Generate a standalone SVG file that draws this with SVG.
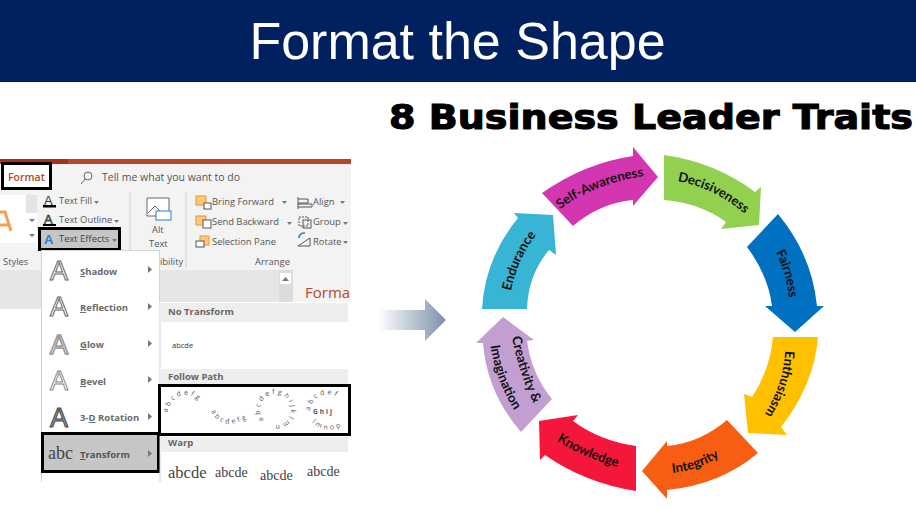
<svg xmlns="http://www.w3.org/2000/svg" xmlns:xlink="http://www.w3.org/1999/xlink" width="916" height="509" viewBox="0 0 916 509">
<style>
.lab{font-family:Lato,"Open Sans",sans-serif;font-weight:700;font-size:13.2px;fill:#111;text-anchor:middle}
.rb{font-family:"Open Sans","Liberation Sans",sans-serif;font-size:9.4px;fill:#555}
.mn{font-family:"Open Sans","Liberation Sans",sans-serif;font-size:9.5px;font-weight:700;fill:#6a6a6a}
.hd{font-family:"Open Sans","Liberation Sans",sans-serif;font-size:9.5px;font-weight:700;fill:#666}
.ic{font-family:"Liberation Sans",sans-serif;font-size:27px;fill:#fff;stroke:#666;stroke-width:1}
.fp{font-family:"Open Sans",sans-serif;font-size:7px;fill:#555;letter-spacing:2.6px}
.wp{font-family:"Liberation Serif",serif;font-size:15px;fill:#444}
.tri{fill:#777}
</style>
<defs>
<linearGradient id="ga" x1="0" x2="1" y1="0" y2="0"><stop offset="0" stop-color="#fff"/><stop offset="1" stop-color="#7c90ad"/></linearGradient>
<path id="p1" d="M559 210Q595 183 645 176"/>
<path id="p2" d="M677 181Q715 188 745 214"/>
<path id="p3" d="M776 253Q786 273 789 297"/>
<path id="p4" d="M785 352Q783 385 765 413"/>
<path id="p5" d="M673 473Q698 470 719 457"/>
<path id="p6" d="M557 441Q585 458 617 467"/>
<path id="p7" d="M511 330Q517 372 537 410"/>
<path id="p8" d="M489 336Q495 385 520 418"/>
<path id="p9" d="M509 300Q517 255 542 228"/>
<path id="f1" d="M167 413Q172 395 186 395Q198 395 206 412"/>
<path id="f2" d="M211 411Q222 433 250 417"/>
<path id="f3" d="M264 420A15.500 15.500 0 1 1 270 424"/>
<path id="f4" d="M310 411A17.500 17.500 0 0 1 344 406"/>
<path id="f5" d="M312 422Q325 435 342 426"/>
<clipPath id="sc"><rect x="160" y="437" width="191" height="44"/></clipPath>
</defs>
<rect width="916" height="509" fill="#fff"/>
<rect width="916" height="82" fill="#002060"/>
<text x="457.500" y="59" text-anchor="middle" font-family="Liberation Sans,sans-serif" font-size="52" fill="#fff">Format the Shape</text>
<text x="389" y="129" textLength="524" lengthAdjust="spacingAndGlyphs" font-family="DejaVu Sans,sans-serif" font-weight="700" font-size="34" fill="#000" stroke="#000" stroke-width="1.100">8 Business Leader Traits</text>

<g id="ribbon">
<rect x="0" y="164" width="351" height="106" fill="#f3f3f3"/>
<rect x="0" y="159" width="351" height="5" fill="#b7472a"/>
<rect x="0" y="159" width="68" height="5" fill="#a5301f"/>
<rect x="0" y="270" width="351" height="39" fill="#e6e6e6"/>
<rect x="279" y="270" width="14" height="39" fill="#dcdcdc"/>
<rect x="293" y="270" width="58" height="39" fill="#f3f3f3"/>
<rect x="280" y="273" width="11" height="11" fill="#fff"/>
<path class="tri" d="M282 281l3.500-4 3.500 4z"/>
<text x="305" y="298" font-family="Open Sans,sans-serif" font-size="15" fill="#b7472a">Forma</text>
<rect x="2.500" y="163.500" width="48" height="25" fill="#fff" stroke="#000" stroke-width="3"/>
<text x="8" y="181" font-family="Open Sans,sans-serif" font-weight="600" font-size="10.500" fill="#b7472a">Format</text>
<circle cx="88" cy="176" r="4" fill="none" stroke="#666"/><path d="M85 179l-4 5" stroke="#666"/>
<text x="102" y="181" class="rb" style="font-size:10.500px">Tell me what you want to do</text>
<rect x="0" y="195" width="26" height="48" fill="#fff"/>
<path d="M0 212H5L11 231M0 225H8" fill="none" stroke="#f4a04e" stroke-width="3"/>
<rect x="26" y="195" width="11" height="18" fill="#e4e4e4"/><rect x="26" y="213" width="11" height="14" fill="#fff"/><rect x="26" y="227" width="11" height="16" fill="#fff"/>
<path class="tri" d="M29 219h6l-3 3zM29 234h6l-3 3z"/>
<text x="3" y="265" class="rb">Styles</text>
<text x="44" y="205" font-family="Liberation Sans,sans-serif" font-size="13" fill="#333">A</text><rect x="43" y="205" width="13" height="2.500" fill="#000"/>
<text x="59" y="204" class="rb">Text Fill</text><path class="tri" d="M94 201h5l-2.500 3z"/>
<text x="44" y="224" font-family="Liberation Sans,sans-serif" font-size="13" fill="#fff" stroke="#333" stroke-width=".7">A</text><rect x="43" y="224" width="13" height="2" fill="#000"/>
<text x="59" y="223" class="rb">Text Outline</text><path class="tri" d="M114 220h5l-2.500 3z"/>
<rect x="39.500" y="228.500" width="80" height="21" fill="#c6c6c6" stroke="#000" stroke-width="3"/>
<text x="44" y="244" font-family="Liberation Sans,sans-serif" font-weight="700" font-size="13" fill="#2b7cd3">A</text>
<text x="59" y="242" class="rb" style="fill:#444">Text Effects</text><path class="tri" d="M112 239h5l-2.500 3z"/>
<path d="M130 192V268M186 192V268" stroke="#d0d0d0"/>
<text x="160" y="265" class="rb">ibility</text>
<path d="M147 198h22v18h-22z" fill="#fff" stroke="#666"/><path d="M148 213l7-7 6 6" fill="none" stroke="#666"/>
<rect x="156" y="211" width="15" height="9" fill="#fff" stroke="#2b7cd3"/>
<text x="152" y="233" class="rb">Alt</text><text x="149" y="247" class="rb">Text</text>
<rect x="196" y="196" width="10" height="9" fill="#fbc97a" stroke="#e69a2e"/><rect x="204" y="203" width="7" height="6" fill="#fff" stroke="#555"/>
<text x="212" y="205" class="rb">Bring Forward</text><path class="tri" d="M282 201h5l-2.500 3z"/>
<rect x="196" y="216" width="10" height="9" fill="#fbc97a" stroke="#e69a2e"/><rect x="203" y="220" width="8" height="8" fill="#fff" stroke="#555"/>
<text x="212" y="225" class="rb">Send Backward</text><path class="tri" d="M287 222h5l-2.500 3z"/>
<rect x="200" y="236" width="9" height="9" fill="#fbc97a" stroke="#e69a2e"/><rect x="196" y="241" width="8" height="6" fill="#fff" stroke="#555"/>
<text x="212" y="245" class="rb">Selection Pane</text>
<path d="M298 197v12M298 199h10v4h-10M298 204h14v3h-14" fill="none" stroke="#555"/>
<text x="313" y="205" class="rb">Align</text><path class="tri" d="M340 201h5l-2.500 3z"/>
<rect x="299" y="217" width="9" height="9" fill="none" stroke="#555" stroke-dasharray="2 1"/><rect x="303" y="220" width="8" height="8" fill="none" stroke="#555"/>
<text x="313" y="225" class="rb">Group</text><path class="tri" d="M343 222h5l-2.500 3z"/>
<path d="M298 246l12-8v8z" fill="none" stroke="#555"/><path d="M299 238a5 5 0 0 1 6-5" fill="none" stroke="#2b7cd3" stroke-width="1.500"/>
<text x="313" y="245" class="rb">Rotate</text><path class="tri" d="M343 241h5l-2.500 3z"/>
<text x="255" y="265" class="rb">Arrange</text>
</g>

<g id="menu">
<rect x="41" y="250" width="119" height="232" fill="#fff"/>
<path d="M41.500 250V482M41 250.500H160M159.500 250V302" fill="none" stroke="#d4d4d4"/>
<text x="50" y="280" class="ic">A</text><text x="80" y="275" class="mn"><tspan text-decoration="underline">S</tspan>hadow</text><path class="tri" d="M148 266l4 3.500-4 3.500z"/>
<text x="50" y="316" class="ic">A</text><text x="80" y="311" class="mn"><tspan text-decoration="underline">R</tspan>eflection</text><path class="tri" d="M148 303l4 3.500-4 3.500z"/>
<text x="50" y="354" class="ic" style="stroke:#999;stroke-width:1.600">A</text><text x="80" y="348" class="mn"><tspan text-decoration="underline">G</tspan>low</text><path class="tri" d="M148 340l4 3.500-4 3.500z"/>
<text x="50" y="390" class="ic" style="stroke:#888">A</text><text x="80" y="385" class="mn"><tspan text-decoration="underline">B</tspan>evel</text><path class="tri" d="M148 376l4 3.500-4 3.500z"/>
<text x="50" y="427" class="ic" style="fill:#999;stroke:#444">A</text><text x="80" y="421" class="mn">3-<tspan text-decoration="underline">D</tspan> Rotation</text><path class="tri" d="M148 413l4 3.500-4 3.500z"/>
<rect x="42.500" y="433.500" width="116" height="38" fill="#c6c6c6" stroke="#000" stroke-width="3"/>
<text x="48" y="459" font-family="Liberation Serif,serif" font-size="18" fill="#444">abc</text><text x="80" y="458" class="mn" style="fill:#555"><tspan text-decoration="underline">T</tspan>ransform</text><path class="tri" d="M148 450l4 3.500-4 3.500z"/>
</g>

<g id="submenu">
<rect x="160" y="302" width="191" height="180" fill="#fff"/>
<path d="M160 302V482" stroke="#d4d4d4"/>
<rect x="160" y="303" width="188" height="19" fill="#eeeeee"/>
<text x="168" y="315" class="hd">No Transform</text>
<text x="172" y="348" font-family="Open Sans,sans-serif" font-size="7.500" fill="#333">abcde</text>
<rect x="160" y="369" width="188" height="15" fill="#eeeeee"/>
<text x="168" y="380" class="hd">Follow Path</text>
<rect x="159.500" y="385.500" width="190" height="49" fill="#fff" stroke="#000" stroke-width="3"/>
<text class="fp"><textPath xlink:href="#f1" href="#f1">abcdefg</textPath></text>
<text class="fp"><textPath xlink:href="#f2" href="#f2">abcdefg</textPath></text>
<text class="fp"><textPath xlink:href="#f3" href="#f3">abcdefghijklmn</textPath></text>
<text class="fp"><textPath xlink:href="#f4" href="#f4">abcdef</textPath></text>
<text x="313" y="414" font-family="Open Sans,sans-serif" font-weight="700" font-size="6.500" letter-spacing="2" fill="#555">Ghij</text>
<text class="fp"><textPath xlink:href="#f5" href="#f5">lmnop</textPath></text>
<rect x="160" y="437" width="188" height="15" fill="#eeeeee"/>
<text x="168" y="446" class="hd">Warp</text>
<g clip-path="url(#sc)">
<text x="168" y="478" class="wp" style="font-size:16.500px">abcde</text>
<text x="215" y="477" class="wp" style="font-size:14px">abcde</text>
<text x="260" y="480" class="wp" style="font-size:14px">abcde</text>
<text x="307" y="476" class="wp" style="font-size:14px">abcde</text>
</g>
</g>

<g id="connectors">
<path d="M378 310H425V299L446 320L425 341V330H378Z" fill="url(#ga)"/>
</g>

<g id="self-awareness"><path d="M542 193Q585 163 633 156V147L658 177L633 206V200Q600 203 573 226Z" fill="#d435b0"/><text class="lab"><textPath xlink:href="#p1" href="#p1" startOffset="50%">Self-Awareness</textPath></text></g>
<g id="decisiveness"><path d="M664 155Q715 162 755 192L761 187L759 225L721 229L726 222Q700 203 664 200Z" fill="#92d050"/><text class="lab"><textPath xlink:href="#p2" href="#p2" startOffset="50%">Decisiveness</textPath></text></g>
<g id="fairness"><path d="M778 214Q812 255 817 306H824L795 332L765 306H772Q768 275 747 247Z" fill="#0070c0"/><text class="lab"><textPath xlink:href="#p3" href="#p3" startOffset="50%">Fairness</textPath></text></g>
<g id="enthusiasm"><path d="M773 337H818Q814 385 781 427L787 435L748 433L744 394L752 397Q770 370 773 337Z" fill="#ffc000"/><text class="lab"><textPath xlink:href="#p4" href="#p4" startOffset="50%">Enthusiasm</textPath></text></g>
<g id="integrity"><path d="M727 420L758 453Q720 485 667 490V499L642 471L667 441V446Q700 443 727 420Z" fill="#f85e13"/><text class="lab"><textPath xlink:href="#p5" href="#p5" startOffset="50%">Integrity</textPath></text></g>
<g id="knowledge"><path d="M636 446V491Q585 483 545 455L540 460L539 421L578 415L573 421Q600 441 636 446Z" fill="#f5163b"/><text class="lab"><textPath xlink:href="#p6" href="#p6" startOffset="50%">Knowledge</textPath></text></g>
<g id="creativity"><path d="M552 399L521 432Q487 393 483 343H476L503 317L534 340L527 341Q532 375 552 399Z" fill="#c39fd1"/><text class="lab"><textPath xlink:href="#p7" href="#p7" startOffset="50%">Creativity &amp;</textPath></text><text class="lab"><textPath xlink:href="#p8" href="#p8" startOffset="50%">Imagination</textPath></text></g>
<g id="endurance"><path d="M482 309Q485 258 518 218L514 213L553 215L556 255L549 250Q528 275 527 309Z" fill="#38b4d4"/><text class="lab"><textPath xlink:href="#p9" href="#p9" startOffset="50%">Endurance</textPath></text></g>
</svg>
